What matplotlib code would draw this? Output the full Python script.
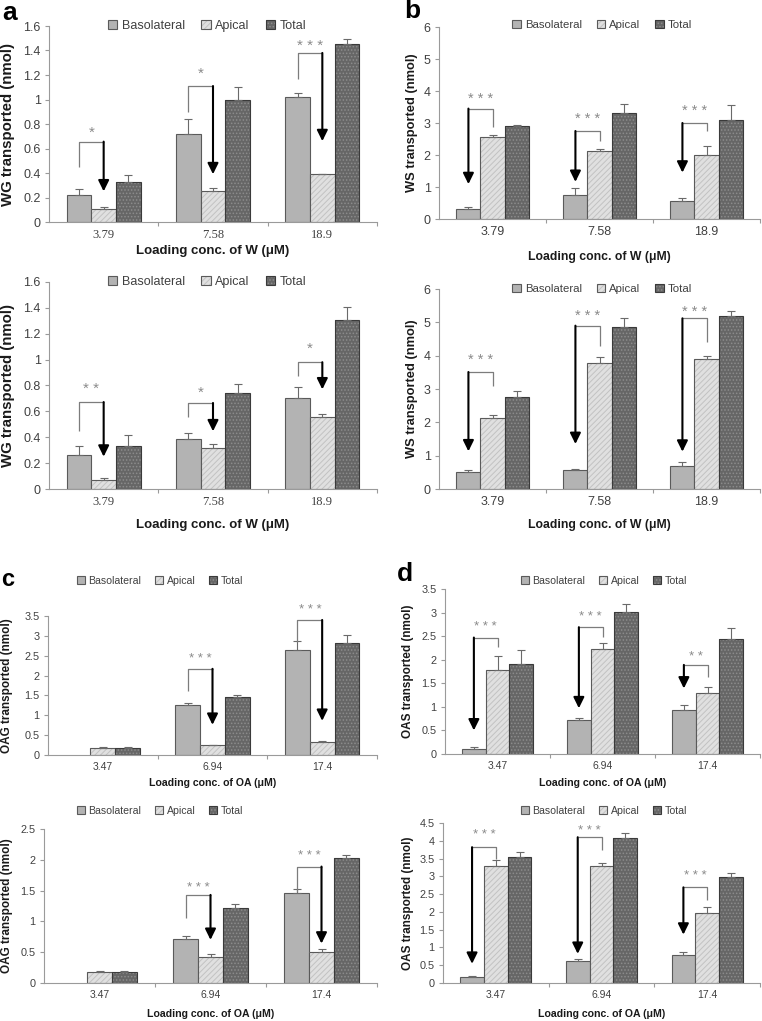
import numpy as np
import matplotlib
matplotlib.use("Agg")
import matplotlib.pyplot as plt
from matplotlib.legend_handler import HandlerTuple

plt.rcParams['font.family'] = ['Liberation Sans', 'DejaVu Sans']
plt.rcParams['hatch.linewidth'] = 0.7

W_PX, H_PX = 762, 1021

series = ["Basolateral", "Apical", "Total"]
conc_W = ["3.79", "7.58", "18.9"]
conc_OA = ["3.47", "6.94", "17.4"]

# a, upper: WG
wg1_baso = [0.22, 0.72, 1.02]
wg1_baso_err = [0.05, 0.12, 0.035]
wg1_api = [0.11, 0.25, 0.39]
wg1_api_err = [0.01, 0.027, 0.005]
wg1_tot = [0.33, 1.00, 1.45]
wg1_tot_err = [0.054, 0.10, 0.046]

# a, lower: WG
wg2_baso = [0.26, 0.39, 0.70]
wg2_baso_err = [0.072, 0.039, 0.09]
wg2_api = [0.07, 0.32, 0.555]
wg2_api_err = [0.013, 0.031, 0.026]
wg2_tot = [0.33, 0.745, 1.31]
wg2_tot_err = [0.09, 0.064, 0.098]

# b, upper: WS
ws1_baso = [0.30, 0.74, 0.57]
ws1_baso_err = [0.08, 0.24, 0.10]
ws1_api = [2.55, 2.13, 2.00]
ws1_api_err = [0.07, 0.07, 0.27]
ws1_tot = [2.92, 3.32, 3.09]
ws1_tot_err = [0.03, 0.27, 0.46]

# b, lower: WS
ws2_baso = [0.50, 0.56, 0.69]
ws2_baso_err = [0.06, 0.03, 0.12]
ws2_api = [2.12, 3.78, 3.91]
ws2_api_err = [0.10, 0.18, 0.09]
ws2_tot = [2.76, 4.86, 5.19]
ws2_tot_err = [0.19, 0.27, 0.15]

# c, upper: OAG
oag1_baso = [np.nan, 1.25, 2.64]
oag1_baso_err = [0, 0.05, 0.22]
oag1_api = [0.18, 0.25, 0.33]
oag1_api_err = [0.01, 0.0, 0.02]
oag1_tot = [0.18, 1.47, 2.83]
oag1_tot_err = [0.01, 0.04, 0.19]

# c, lower: OAG
oag2_baso = [np.nan, 0.72, 1.46]
oag2_baso_err = [0, 0.05, 0.06]
oag2_api = [0.18, 0.42, 0.50]
oag2_api_err = [0.02, 0.05, 0.06]
oag2_tot = [0.18, 1.21, 2.03]
oag2_tot_err = [0.02, 0.08, 0.05]

# d, upper: OAS
oas1_baso = [0.11, 0.72, 0.93]
oas1_baso_err = [0.03, 0.05, 0.11]
oas1_api = [1.79, 2.23, 1.29]
oas1_api_err = [0.29, 0.12, 0.13]
oas1_tot = [1.91, 3.02, 2.45]
oas1_tot_err = [0.29, 0.17, 0.23]

# d, lower: OAS
oas2_baso = [0.16, 0.63, 0.80]
oas2_baso_err = [0.03, 0.04, 0.06]
oas2_api = [3.28, 3.28, 1.96]
oas2_api_err = [0.17, 0.10, 0.18]
oas2_tot = [3.53, 4.09, 2.99]
oas2_tot_err = [0.15, 0.12, 0.11]

# significance marks: (group, line start, bracket top, arrow tip, star y, stars)
wg1_sig = [(0, 0.45, 0.656, 0.25, 0.73, "*"),
           (1, 0.90, 1.11, 0.39, 1.21, "*"),
           (2, 1.17, 1.38, 0.66, 1.44, "***")]
wg2_sig = [(0, 0.45, 0.672, 0.25, 0.77, "**"),
           (1, 0.554, 0.665, 0.446, 0.74, "*"),
           (2, 0.87, 0.98, 0.77, 1.08, "*")]
ws1_sig = [(0, 2.88, 3.45, 1.09, 3.76, "***"),
           (1, 2.44, 2.75, 1.16, 3.12, "***"),
           (2, 2.75, 3.0, 1.45, 3.37, "***")]
ws2_sig = [(0, 3.1, 3.51, 1.13, 3.88, "***"),
           (1, 4.28, 4.9, 1.35, 5.18, "***"),
           (2, 4.41, 5.12, 1.12, 5.32, "***")]
oag1_sig = [(1, 1.60, 2.17, 0.76, 2.42, "***"),
            (2, 2.84, 3.40, 0.86, 3.66, "***")]
oag2_sig = [(1, 1.05, 1.43, 0.70, 1.54, "***"),
            (2, 1.48, 1.89, 0.64, 2.06, "***")]
oas1_sig = [(0, 2.26, 2.47, 0.50, 2.70, "***"),
            (1, 2.48, 2.69, 0.97, 2.91, "***"),
            (2, 1.64, 1.89, 1.39, 2.05, "**")]
oas2_sig = [(0, 3.49, 3.82, 0.54, 4.17, "***"),
            (1, 3.75, 4.10, 0.82, 4.27, "***"),
            (2, 2.34, 2.69, 1.36, 3.0, "***")]

BASO_FACE = '#b3b3b3'
API_FACE = '#e0e0e0'
API_HATCH = '#c2c2c2'
TOT_FACE = '#666666'
TOT_HATCH = '#8c8c8c'
EDGE = '#5a5a5a'
AXIS_COL = '#9a9a9a'
TXT_COL = '#404040'

fig = plt.figure(figsize=(W_PX / 100, H_PX / 100), dpi=100)


def px_axes(left, right, top, bottom):
    return fig.add_axes([left / W_PX, 1 - bottom / H_PX,
                         (right - left) / W_PX, (bottom - top) / H_PX])


def draw_panel(ax, cats, baso, baso_err, api, api_err, tot, tot_err,
               ymax, ystep, sigs, arrow_at_baso, ylabel, xlabel, st):
    x = np.arange(len(cats))
    w = 0.225
    xb, xa, xt = x - w, x, x + w
    eb = dict(fmt='none', ecolor='#6a6a6a', elinewidth=0.8, capsize=2.6, capthick=0.8)

    b_baso = ax.bar(xb, baso, w, color=BASO_FACE, edgecolor=EDGE, linewidth=0.8)
    ax.errorbar(xb, baso, yerr=[np.zeros(3), baso_err], **eb)

    a1 = ax.bar(xa, api, w, color=API_FACE, edgecolor=API_HATCH, hatch='//////', linewidth=0)
    a2 = ax.bar(xa, api, w, facecolor='none', edgecolor=EDGE, linewidth=0.8)
    ax.errorbar(xa, api, yerr=[np.zeros(3), api_err], **eb)

    t1 = ax.bar(xt, tot, w, color=TOT_FACE, edgecolor=TOT_HATCH, hatch='.....', linewidth=0)
    t2 = ax.bar(xt, tot, w, facecolor='none', edgecolor='#3a3a3a', linewidth=0.8)
    ax.errorbar(xt, tot, yerr=[np.zeros(3), tot_err], **eb)

    for g, y0, ytop, ytip, ystar, lab in sigs:
        if arrow_at_baso:
            x_line, x_arr = xa[g], xb[g]
        else:
            x_line, x_arr = xb[g], xa[g]
        ax.plot([x_line, x_line, x_arr], [y0, ytop, ytop], color='#7c7c7c', lw=0.9,
                solid_capstyle='butt', clip_on=False)
        ax.annotate('', xy=(x_arr, ytip), xytext=(x_arr, ytop),
                    arrowprops=dict(arrowstyle='-|>,head_length=0.65,head_width=0.32',
                                    color='black', lw=1.5, shrinkA=0, shrinkB=0))
        ax.text((x_line + x_arr) / 2, ystar, ' '.join(lab), ha='center', va='center',
                color='#8a8a8a', fontsize=st['star'])

    ax.set_xlim(-0.5, 2.5)
    ax.set_ylim(0, ymax)
    ticks = np.arange(0, ymax + ystep / 2, ystep)
    ax.set_yticks(ticks)
    ax.set_yticklabels([f"{v:g}" for v in np.round(ticks, 2)])
    ax.set_xticks(x)
    ax.set_xticklabels(cats)
    ax.set_xticks([0.5, 1.5, 2.5], minor=True)
    ax.tick_params(axis='x', which='major', length=0, pad=st['xpad'],
                   labelsize=st['xtick'], colors=TXT_COL)
    ax.tick_params(axis='x', which='minor', length=3, width=0.8, color=AXIS_COL)
    ax.tick_params(axis='y', length=3, width=0.8, color=AXIS_COL, pad=3,
                   labelsize=st['ytick'], labelcolor=TXT_COL)
    if st.get('serif_x'):
        for t in ax.get_xticklabels():
            t.set_family(['Liberation Serif', 'DejaVu Serif'])
    for side in ('top', 'right'):
        ax.spines[side].set_visible(False)
    for side in ('left', 'bottom'):
        ax.spines[side].set_color(AXIS_COL)
        ax.spines[side].set_linewidth(0.8)

    ax.set_ylabel(ylabel, fontsize=st['ylabel'], fontweight='bold', color='#1a1a1a')
    ax.set_xlabel(xlabel, fontsize=st['xlabel'], fontweight='bold', color='#1a1a1a')
    return [b_baso, (a1, a2), (t1, t2)]


big = dict(ytick=9, xtick=9, legend=9, ylabel=10.8, xlabel=9.5, star=11, xpad=5, serif_x=True)
mid = dict(ytick=9, xtick=9, legend=8.2, ylabel=9.3, xlabel=8.8, star=10.5, xpad=5)
small = dict(ytick=7.8, xtick=7.5, legend=7.6, ylabel=8.5, xlabel=7.6, star=9.5, xpad=5)

xlab_W = "Loading conc. of W (\u03bcM)"
xlab_OA = "Loading conc. of OA (\u03bcM)"

panels = [
    # axes px box, data, ylim, sigs, arrow side, labels, style, xlabel y, ylabel x, legend centre
    dict(box=(49, 377, 26, 222), d=(conc_W, wg1_baso, wg1_baso_err, wg1_api, wg1_api_err, wg1_tot, wg1_tot_err),
         ymax=1.6, ystep=0.2, sig=wg1_sig, at_baso=False, yl="WG transported (nmol)", xl=xlab_W,
         st=big, xly=251, ylx=8, leg=(207, 26)),
    dict(box=(49, 377, 282, 489), d=(conc_W, wg2_baso, wg2_baso_err, wg2_api, wg2_api_err, wg2_tot, wg2_tot_err),
         ymax=1.6, ystep=0.2, sig=wg2_sig, at_baso=False, yl="WG transported (nmol)", xl=xlab_W,
         st=big, xly=525, ylx=8, leg=(207, 282)),
    dict(box=(439, 760, 27, 219), d=(conc_W, ws1_baso, ws1_baso_err, ws1_api, ws1_api_err, ws1_tot, ws1_tot_err),
         ymax=6, ystep=1, sig=ws1_sig, at_baso=True, yl="WS transported (nmol)", xl=xlab_W,
         st=mid, xly=257, ylx=412, leg=(602, 25)),
    dict(box=(439, 760, 289, 489), d=(conc_W, ws2_baso, ws2_baso_err, ws2_api, ws2_api_err, ws2_tot, ws2_tot_err),
         ymax=6, ystep=1, sig=ws2_sig, at_baso=True, yl="WS transported (nmol)", xl=xlab_W,
         st=mid, xly=525, ylx=412, leg=(602, 289)),
    dict(box=(48, 377, 616, 755), d=(conc_OA, oag1_baso, oag1_baso_err, oag1_api, oag1_api_err, oag1_tot, oag1_tot_err),
         ymax=3.5, ystep=0.5, sig=oag1_sig, at_baso=False, yl="OAG transported (nmol)", xl=xlab_OA,
         st=small, xly=783, ylx=7, leg=(160, 581)),
    dict(box=(44, 377, 829, 983), d=(conc_OA, oag2_baso, oag2_baso_err, oag2_api, oag2_api_err, oag2_tot, oag2_tot_err),
         ymax=2.5, ystep=0.5, sig=oag2_sig, at_baso=False, yl="OAG transported (nmol)", xl=xlab_OA,
         st=small, xly=1014, ylx=7, leg=(160, 811)),
    dict(box=(445, 760, 589, 754), d=(conc_OA, oas1_baso, oas1_baso_err, oas1_api, oas1_api_err, oas1_tot, oas1_tot_err),
         ymax=3.5, ystep=0.5, sig=oas1_sig, at_baso=True, yl="OAS transported (nmol)", xl=xlab_OA,
         st=small, xly=783, ylx=408, leg=(604, 581)),
    dict(box=(443, 760, 823, 983), d=(conc_OA, oas2_baso, oas2_baso_err, oas2_api, oas2_api_err, oas2_tot, oas2_tot_err),
         ymax=4.5, ystep=0.5, sig=oas2_sig, at_baso=True, yl="OAS transported (nmol)", xl=xlab_OA,
         st=small, xly=1014, ylx=408, leg=(604, 811)),
]

for p in panels:
    l, r, t, b = p['box']
    ax = px_axes(l, r, t, b)
    handles = draw_panel(ax, *p['d'], p['ymax'], p['ystep'], p['sig'], p['at_baso'],
                         p['yl'], p['xl'], p['st'])
    # label positions given in figure pixels -> axes fraction
    ax.xaxis.set_label_coords(0.5, (b - p['xly']) / (b - t))
    ax.xaxis.label.set_va('center')
    ax.yaxis.set_label_coords((p['ylx'] - l) / (r - l), 0.5)
    ax.yaxis.label.set_va('center')
    ax.legend(handles, series, loc='center',
              bbox_to_anchor=(p['leg'][0] / W_PX, 1 - p['leg'][1] / H_PX),
              bbox_transform=fig.transFigure, ncol=3, frameon=False,
              fontsize=p['st']['legend'], handlelength=0.75, handleheight=0.75,
              handletextpad=0.35, columnspacing=1.3, borderpad=0, labelcolor=TXT_COL,
              handler_map={tuple: HandlerTuple(ndivide=1)})

for letter, lx, ly, fs in [("a", 10, 13, 19), ("b", 412, 11, 19),
                           ("c", 8, 580, 17), ("d", 405, 574, 19)]:
    fig.text(lx / W_PX, 1 - ly / H_PX, letter, ha='center', va='center',
             fontsize=fs, fontweight='bold', color='black')

fig.savefig("out.png", dpi=100)
